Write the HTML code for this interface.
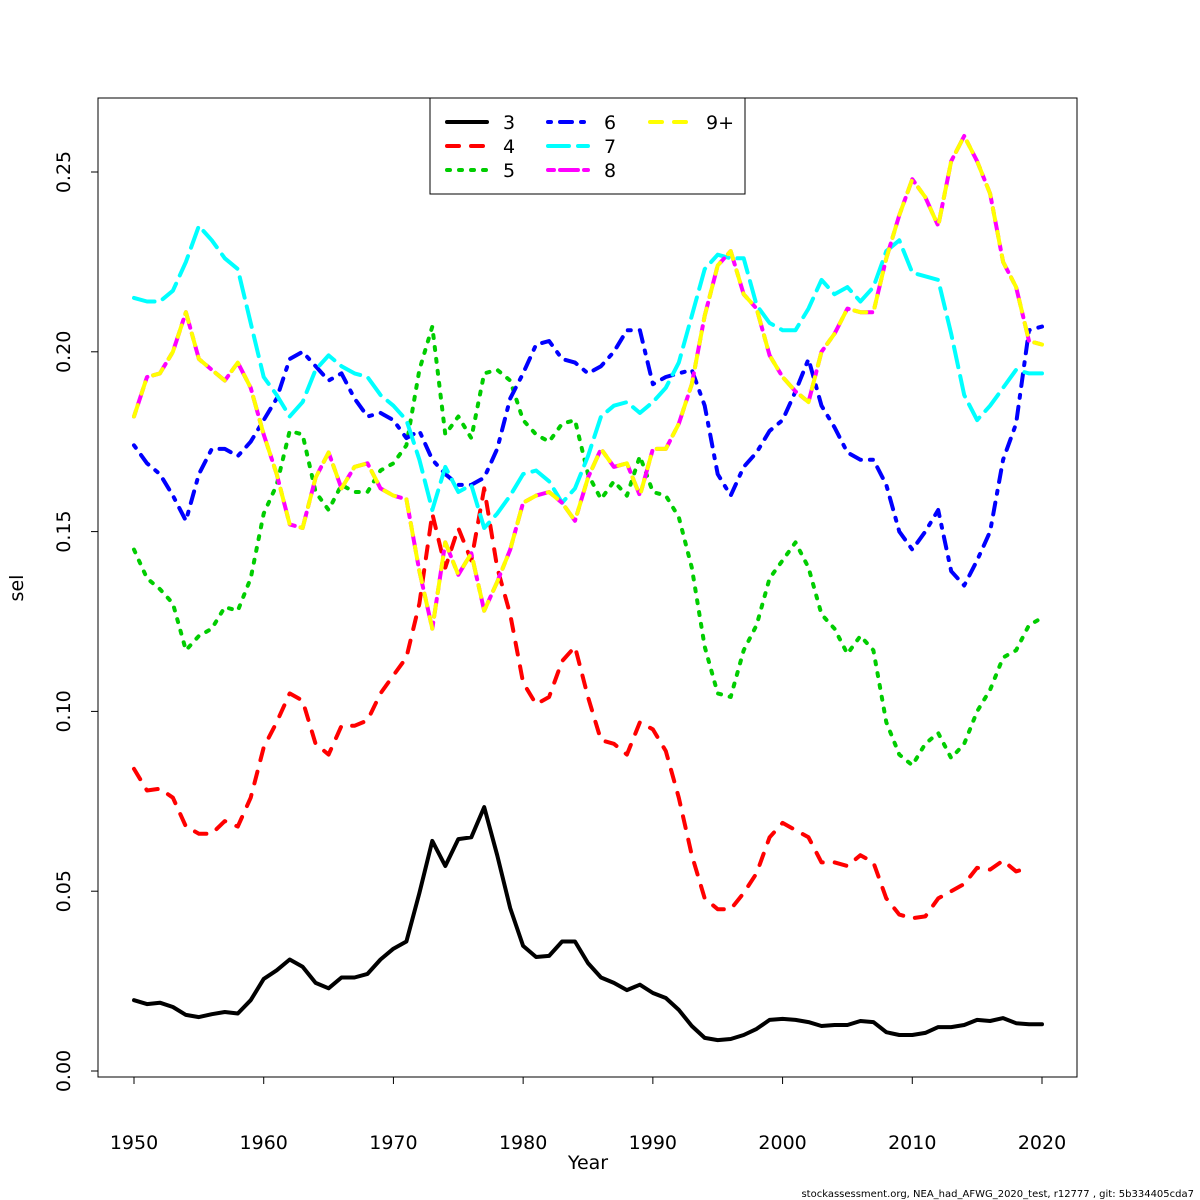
<!DOCTYPE html>
<html><head><meta charset="utf-8"><style>
body{margin:0;background:#fff}
svg{display:block;font-family:"DejaVu Sans","Liberation Sans",sans-serif}
</style></head><body>
<svg id="chart" width="1200" height="1200" viewBox="0 0 1200 1200">
<rect x="0" y="0" width="1200" height="1200" fill="#fff"/>
<g id="series"></g>
<rect x="98" y="98" width="979" height="979" fill="none" stroke="#000" stroke-width="1"/>
<g id="xaxis"></g>
<g id="yaxis"></g>
<text x="588" y="1169" font-size="19" text-anchor="middle">Year</text>
<text transform="translate(23,588) rotate(-90)" font-size="19" text-anchor="middle">sel</text>
<text x="1194" y="1197" font-size="10" text-anchor="end">stockassessment.org, NEA_had_AFWG_2020_test, r12777 , git: 5b334405cda7</text>
<g id="legend">
<rect x="430" y="98" width="315" height="96" fill="#fff" stroke="#000" stroke-width="1"/>
</g>
</svg>
<script>
const years = [];
for (let y = 1950; y <= 2020; y++) years.push(y);
const sel3 = [0.0197,0.0186,0.019,0.0178,0.0156,0.015,0.0158,0.0164,0.016,0.0197,0.0256,0.028,0.031,0.029,0.0245,0.023,0.026,0.026,0.027,0.031,0.034,0.036,0.0495,0.064,0.057,0.0645,0.065,0.0734,0.060,0.0453,0.0348,0.0317,0.032,0.036,0.036,0.030,0.026,0.0245,0.0225,0.024,0.0217,0.0203,0.017,0.0125,0.0092,0.0086,0.0089,0.010,0.0117,0.0142,0.0145,0.0142,0.0136,0.0125,0.0128,0.0128,0.0139,0.0136,0.0108,0.010,0.010,0.0106,0.0122,0.0122,0.0128,0.0142,0.0139,0.0147,0.0133,0.013,0.013];
const sel4 = [0.084,0.078,0.0785,0.076,0.068,0.066,0.066,0.0695,0.068,0.076,0.09,0.097,0.105,0.103,0.091,0.088,0.096,0.096,0.0975,0.105,0.11,0.115,0.13,0.155,0.14,0.151,0.142,0.162,0.14,0.127,0.108,0.102,0.104,0.114,0.118,0.104,0.092,0.091,0.088,0.097,0.095,0.089,0.076,0.06,0.048,0.045,0.045,0.0495,0.055,0.065,0.069,0.067,0.065,0.058,0.058,0.057,0.06,0.058,0.048,0.0435,0.0425,0.043,0.048,0.05,0.052,0.0565,0.056,0.0585,0.0555,0.0565];
const sel5 = [0.145,0.137,0.134,0.13,0.117,0.121,0.123,0.129,0.128,0.137,0.155,0.163,0.178,0.177,0.161,0.156,0.163,0.161,0.161,0.167,0.169,0.174,0.195,0.207,0.177,0.182,0.176,0.194,0.195,0.192,0.181,0.177,0.175,0.18,0.181,0.166,0.159,0.164,0.16,0.171,0.161,0.16,0.154,0.14,0.118,0.105,0.104,0.117,0.124,0.137,0.142,0.147,0.14,0.127,0.123,0.116,0.121,0.117,0.097,0.088,0.085,0.091,0.094,0.087,0.091,0.1,0.106,0.115,0.117,0.124,0.126];
const sel6 = [0.174,0.169,0.166,0.16,0.153,0.166,0.173,0.173,0.171,0.175,0.181,0.187,0.198,0.2,0.196,0.192,0.194,0.187,0.182,0.183,0.181,0.176,0.178,0.17,0.166,0.163,0.163,0.165,0.173,0.187,0.194,0.202,0.203,0.198,0.197,0.194,0.196,0.2,0.206,0.206,0.191,0.193,0.194,0.195,0.185,0.166,0.16,0.168,0.172,0.178,0.181,0.189,0.198,0.185,0.179,0.172,0.17,0.17,0.163,0.15,0.145,0.15,0.156,0.139,0.135,0.142,0.15,0.17,0.18,0.206,0.207];
const sel7 = [0.215,0.214,0.214,0.217,0.225,0.235,0.231,0.226,0.223,0.208,0.193,0.188,0.182,0.186,0.195,0.199,0.196,0.194,0.193,0.188,0.185,0.181,0.17,0.156,0.168,0.161,0.163,0.151,0.155,0.16,0.166,0.167,0.164,0.158,0.162,0.171,0.182,0.185,0.186,0.183,0.186,0.19,0.197,0.21,0.223,0.227,0.226,0.226,0.213,0.208,0.206,0.206,0.212,0.22,0.216,0.218,0.214,0.218,0.228,0.231,0.222,0.221,0.22,0.205,0.188,0.181,0.185,0.19,0.195,0.194,0.194];
const sel8 = [0.182,0.193,0.194,0.2,0.211,0.198,0.195,0.192,0.197,0.19,0.177,0.166,0.152,0.151,0.165,0.172,0.162,0.168,0.169,0.162,0.16,0.159,0.139,0.123,0.147,0.138,0.144,0.128,0.136,0.145,0.158,0.16,0.161,0.158,0.153,0.165,0.173,0.168,0.169,0.16,0.173,0.173,0.18,0.191,0.21,0.224,0.228,0.216,0.212,0.199,0.193,0.189,0.186,0.2,0.205,0.212,0.211,0.211,0.226,0.238,0.248,0.243,0.235,0.253,0.26,0.253,0.244,0.225,0.218,0.203,0.202];
const sel9 = sel8.slice();
const xTicks = [1950,1960,1970,1980,1990,2000,2010,2020];
const yTicks = [0,0.05,0.10,0.15,0.20,0.25];
const yTickLabels = ["0.00","0.05","0.10","0.15","0.20","0.25"];
const seriesNames = ["3","4","5","6","7","8","9+"];

const NS = "http://www.w3.org/2000/svg";
function xs(v){ return 134 + (v - 1950) * (908 / 70); }
function ys(v){ return 1071 - v * 3596; }
function mk(tag, attrs, parent){ const e = document.createElementNS(NS, tag); for (const k in attrs) e.setAttribute(k, attrs[k]); parent.appendChild(e); return e; }

const styles = [
 {col:"#000000", dash:"none"},
 {col:"#ff0000", dash:"12,12"},
 {col:"#00cd00", dash:"3,9"},
 {col:"#0000ff", dash:"3,9,12,9"},
 {col:"#00ffff", dash:"21,9"},
 {col:"#ff00ff", dash:"6,6,18,6"},
 {col:"#ffff00", dash:"12,12"}
];
const data = [sel3, sel4, sel5, sel6, sel7, sel8, sel9];
const sg = document.getElementById("series");
data.forEach((arr, i) => {
  const pts = arr.map((v, j) => xs(years[j]).toFixed(1) + "," + ys(v).toFixed(1)).join(" ");
  const pl = mk("polyline", {points: pts, fill: "none", stroke: styles[i].col, "stroke-width": 4, "stroke-dasharray": styles[i].dash, "stroke-linejoin": "round", "stroke-linecap": "round"}, sg);
  
  
});

const xg = document.getElementById("xaxis");
const xl = mk("line", {x1: xs(1950), x2: xs(2020), y1: 1077, y2: 1077, stroke: "#000"}, xg);


xTicks.forEach(t => {
  const tk = mk("line", {x1: xs(t), x2: xs(t), y1: 1077, y2: 1084, stroke: "#000"}, xg);
  
  
  const tx = mk("text", {x: xs(t), y: 1149, "font-size": 19, "text-anchor": "middle"}, xg);
  tx.textContent = t;
  
  
});
const yg = document.getElementById("yaxis");
const yl = mk("line", {x1: 98, x2: 98, y1: ys(0), y2: ys(0.25), stroke: "#000"}, yg);


yTicks.forEach((t, i) => {
  const tk = mk("line", {x1: 91, x2: 98, y1: ys(t), y2: ys(t), stroke: "#000"}, yg);
  
  
  const tx = mk("text", {transform: "translate(70," + ys(t) + ") rotate(-90)", "font-size": 19, "text-anchor": "middle"}, yg);
  tx.textContent = yTickLabels[i];
  
  
});

const lg = document.getElementById("legend");
const lx = [447, 447, 447, 548, 548, 548, 650];
const ly = [122, 146, 170, 122, 146, 170, 122];
seriesNames.forEach((n, i) => {
  const ln = mk("line", {x1: lx[i], x2: lx[i] + 40, y1: ly[i], y2: ly[i], stroke: styles[i].col, "stroke-width": 4, "stroke-dasharray": styles[i].dash, "stroke-linecap": "round"}, lg);
  
  
  const tx = mk("text", {x: lx[i] + 56, y: ly[i] + 7, "font-size": 19}, lg);
  tx.textContent = n;
  
  
});
</script>
</body></html>
